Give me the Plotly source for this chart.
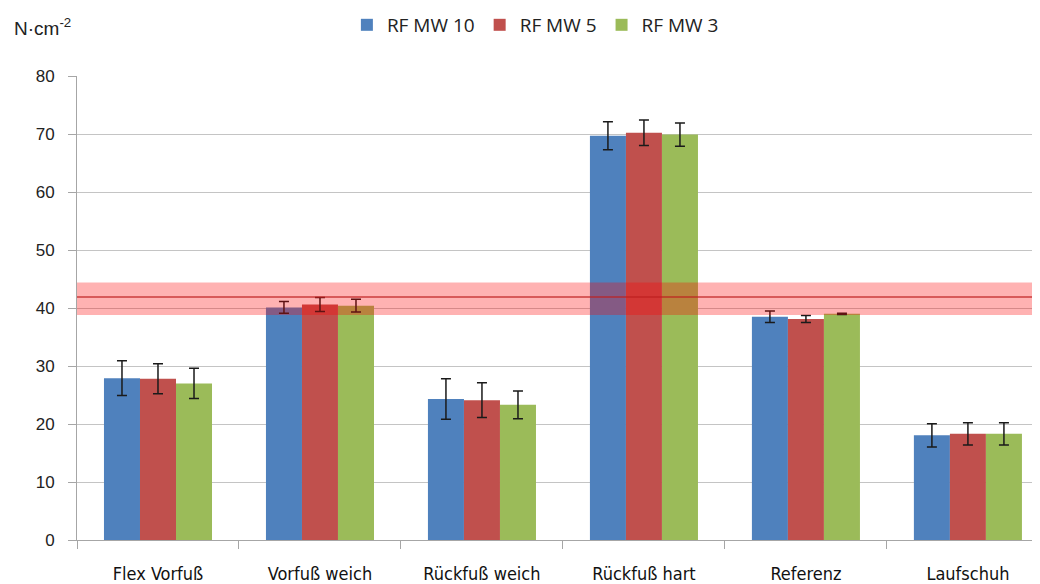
import plotly.graph_objects as go

categories = ["Flex Vorfuß", "Vorfuß weich", "Rückfuß weich", "Rückfuß hart", "Referenz", "Laufschuh"]
series_names = ["RF MW 10", "RF MW 5", "RF MW 3"]
mw10 = [27.9, 40.1, 24.3, 69.7, 38.5, 18.05]
mw5 = [27.8, 40.6, 24.1, 70.2, 38.1, 18.3]
mw3 = [27.0, 40.4, 23.3, 69.9, 39.0, 18.3]
err10 = [3.0, 1.0, 3.5, 2.4, 1.0, 2.0]
err5 = [2.6, 1.2, 3.0, 2.2, 0.6, 1.9]
err3 = [2.6, 1.1, 2.4, 2.0, 0.1, 1.9]
colors = ["#4F81BD", "#C0504D", "#9BBB59"]
ref_mean = 41.9
ref_low = 38.8
ref_high = 44.4
y_ticks = [0, 10, 20, 30, 40, 50, 60, 70, 80]

fig = go.Figure()
for name, vals, errs, col in zip(series_names, [mw10, mw5, mw3], [err10, err5, err3], colors):
    fig.add_trace(go.Bar(
        x=categories, y=vals, name=name, marker=dict(color=col, line=dict(width=0)),
        error_y=dict(type="data", array=errs, visible=True, color="#1a1a1a", thickness=1.5, width=5),
    ))

fig.add_shape(type="rect", xref="x domain", yref="y", x0=0, x1=1, y0=ref_low, y1=ref_high,
              fillcolor="rgba(255,0,0,0.3)", line=dict(width=0), layer="above")
fig.add_shape(type="line", xref="x domain", yref="y", x0=0, x1=1, y0=ref_mean, y1=ref_mean,
              line=dict(color="rgba(190,30,30,0.8)", width=1.5), layer="above")

fig.add_annotation(text="N·cm<sup>-2</sup>", xref="paper", yref="paper", x=-0.068, y=1.105,
                   xanchor="left", yanchor="middle", showarrow=False,
                   font=dict(family="Liberation Sans, Arial, sans-serif", size=19, color="#222"))

# page body has an 8px default margin, so the figure is sized/offset to compensate
fig.update_layout(
    width=1032, height=576,
    margin=dict(l=69, r=0, t=68, b=44, autoexpand=False),
    paper_bgcolor="white", plot_bgcolor="white",
    barmode="group", bargap=0.333, bargroupgap=0,
    showlegend=True,
    legend=dict(orientation="h", x=0.476, xanchor="center", y=1.11, yanchor="middle",
                font=dict(family="Open Sans, sans-serif", size=19, color="#222"),
                itemwidth=30, traceorder="normal"),
    xaxis=dict(range=[-0.5, 5.445], showline=True, linecolor="#a6a6a6", linewidth=1,
               ticks="outside", tickson="boundaries", ticklen=8, tickcolor="#a6a6a6",
               tickfont=dict(family="Liberation Sans Narrow, DejaVu Sans Condensed, sans-serif", size=18, color="#111"),
               ticklabelstandoff=17, showgrid=False, automargin=False),
    yaxis=dict(range=[0, 80], tickvals=y_ticks, showline=True, linecolor="#a6a6a6", linewidth=1,
               ticks="outside", ticklen=8, tickcolor="#a6a6a6", gridcolor="#c4c4c4", gridwidth=1,
               tickfont=dict(family="Liberation Sans, Arial, sans-serif", size=17, color="#222"),
               ticklabelstandoff=10, zeroline=False, automargin=False),
)

fig.write_html("out.html")
